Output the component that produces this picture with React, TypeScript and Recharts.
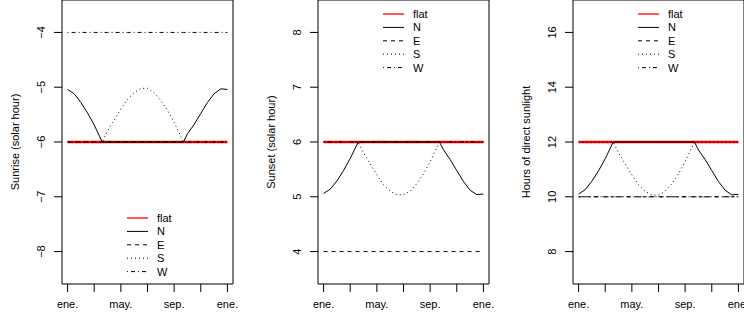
import { LineChart, Line, XAxis, YAxis, ReferenceArea, Legend } from 'recharts'

const FONT = '"Liberation Sans", Arial, Helvetica, sans-serif'

// month index: 0 = ene. ... 12 = ene. (next year)
const months = [0, 0.5, 1, 1.5, 2, 2.6, 3, 3.5, 4, 4.5, 5, 5.5, 6, 6.5, 7, 7.5, 8, 8.7, 9, 9.5, 10, 10.5, 11, 11.5, 12]

const xTicks = [0, 2, 4, 6, 8, 10, 12]
// R drops the labels that would overlap (mar., jul., nov.)
const xTickLabels = ['ene.', '', 'may.', '', 'sep.', '', 'ene.']

const seriesNames = ['flat', 'N', 'E', 'S', 'W']

// sunrise (solar hour)
const sunriseFlat = [-6, -6, -6, -6, -6, -6, -6, -6, -6, -6, -6, -6, -6, -6, -6, -6, -6, -6, -6, -6, -6, -6, -6, -6, -6]
const sunriseN = [-5.04, -5.12, -5.28, -5.47, -5.69, -6, -6, -6, -6, -6, -6, -6, -6, -6, -6, -6, -6, -6, -5.85, -5.68, -5.48, -5.28, -5.12, -5.03, -5.04]
const sunriseE = [-6, -6, -6, -6, -6, -6, -6, -6, -6, -6, -6, -6, -6, -6, -6, -6, -6, -6, -6, -6, -6, -6, -6, -6, -6]
const sunriseS = [-6, -6, -6, -6, -6, -6, -5.8, -5.6, -5.4, -5.22, -5.1, -5.02, -5.02, -5.1, -5.24, -5.42, -5.64, -6, -6, -6, -6, -6, -6, -6, -6]
const sunriseW = [-4, -4, -4, -4, -4, -4, -4, -4, -4, -4, -4, -4, -4, -4, -4, -4, -4, -4, -4, -4, -4, -4, -4, -4, -4]

// sunset (solar hour)
const sunsetFlat = [6, 6, 6, 6, 6, 6, 6, 6, 6, 6, 6, 6, 6, 6, 6, 6, 6, 6, 6, 6, 6, 6, 6, 6, 6]
const sunsetN = [5.06, 5.14, 5.29, 5.48, 5.7, 6, 6, 6, 6, 6, 6, 6, 6, 6, 6, 6, 6, 6, 5.86, 5.68, 5.48, 5.28, 5.12, 5.04, 5.05]
const sunsetE = [4, 4, 4, 4, 4, 4, 4, 4, 4, 4, 4, 4, 4, 4, 4, 4, 4, 4, 4, 4, 4, 4, 4, 4, 4]
const sunsetS = [6, 6, 6, 6, 6, 6, 5.8, 5.6, 5.4, 5.22, 5.1, 5.04, 5.04, 5.1, 5.24, 5.42, 5.64, 6, 6, 6, 6, 6, 6, 6, 6]
const sunsetW = [6, 6, 6, 6, 6, 6, 6, 6, 6, 6, 6, 6, 6, 6, 6, 6, 6, 6, 6, 6, 6, 6, 6, 6, 6]

// hours of direct sunlight
const hoursFlat = [12, 12, 12, 12, 12, 12, 12, 12, 12, 12, 12, 12, 12, 12, 12, 12, 12, 12, 12, 12, 12, 12, 12, 12, 12]
const hoursN = [10.1, 10.26, 10.57, 10.95, 11.39, 12, 12, 12, 12, 12, 12, 12, 12, 12, 12, 12, 12, 12, 11.71, 11.36, 10.96, 10.56, 10.24, 10.07, 10.09]
const hoursE = [10, 10, 10, 10, 10, 10, 10, 10, 10, 10, 10, 10, 10, 10, 10, 10, 10, 10, 10, 10, 10, 10, 10, 10, 10]
const hoursS = [12, 12, 12, 12, 12, 12, 11.6, 11.2, 10.8, 10.44, 10.2, 10.06, 10.06, 10.2, 10.48, 10.84, 11.28, 12, 12, 12, 12, 12, 12, 12, 12]
const hoursW = [10, 10, 10, 10, 10, 10, 10, 10, 10, 10, 10, 10, 10, 10, 10, 10, 10, 10, 10, 10, 10, 10, 10, 10, 10]

const STYLE: Record<string, { color: string; width: number; dash?: string; legendWidth: number }> = {
  flat: { color: '#ff0000', width: 2.5, legendWidth: 1.3 },
  N: { color: '#000', width: 1, legendWidth: 1 },
  E: { color: '#000', width: 1, dash: '4 4', legendWidth: 1 },
  S: { color: '#000', width: 1, dash: '1 3', legendWidth: 1 },
  W: { color: '#000', width: 1, dash: '1 3 4 3', legendWidth: 1 },
}

function buildRows(cols: number[][]) {
  return months.map((m, i) => {
    const row: Record<string, number> = { m }
    seriesNames.forEach((name, j) => {
      row[name] = cols[j][i]
    })
    return row
  })
}

const fmtNum = (v: number) => (v < 0 ? '\u2212' + Math.abs(v) : String(v))

const X_DOMAIN: [number, number] = [-0.42, 12.42]
const PLOT_BOTTOM = 284

function XTick({ x, y, payload }: any) {
  const idx = xTicks.indexOf(payload.value)
  return (
    <text x={x} y={y + 14} textAnchor="middle" fontSize={11} fontFamily={FONT} fill="#000">
      {xTickLabels[idx] ?? ''}
    </text>
  )
}

function YTick({ x, y, payload }: any) {
  return (
    <text x={x} y={y} transform={`rotate(-90 ${x} ${y})`} textAnchor="middle" fontSize={11} fontFamily={FONT} fill="#000">
      {fmtNum(payload.value)}
    </text>
  )
}

function LegendBox() {
  return (
    <svg width={80} height={72} style={{ display: 'block', overflow: 'visible' }}>
      {seriesNames.map((name, i) => {
        const cy = 8 + i * 13.4
        const s = STYLE[name]
        return (
          <g key={name}>
            <line x1={5} x2={26} y1={cy} y2={cy} stroke={s.color} strokeWidth={s.legendWidth} strokeDasharray={s.dash} />
            <text x={35} y={cy + 4} fontSize={11} fontFamily={FONT} fill="#000">{name}</text>
          </g>
        )
      })}
    </svg>
  )
}

interface PanelProps {
  left: number
  width: number
  yAxisWidth: number
  rightMargin: number
  rows: Record<string, number>[]
  yDomain: [number, number]
  yTicks: number[]
  title: string
  legendTop: number
}

function Panel({ left, width, yAxisWidth, rightMargin, rows, yDomain, yTicks, title, legendTop }: PanelProps) {
  const plotLeft = yAxisWidth
  return (
    <div style={{ position: 'absolute', left, top: 0 }}>
      <LineChart width={width} height={320} data={rows} margin={{ top: 0, right: rightMargin, bottom: 0, left: 0 }}>
        <XAxis
          dataKey="m"
          type="number"
          domain={X_DOMAIN}
          ticks={xTicks}
          allowDataOverflow
          height={320 - PLOT_BOTTOM}
          axisLine={false}
          tickLine={{ stroke: '#000' }}
          tickSize={8}
          tick={<XTick />}
          interval={0}
        />
        <YAxis
          type="number"
          domain={yDomain}
          ticks={yTicks}
          allowDataOverflow
          width={yAxisWidth}
          axisLine={false}
          tickLine={{ stroke: '#000' }}
          tickSize={8}
          tickMargin={9}
          tick={<YTick />}
          interval={0}
          label={{
            content: () => (
              <text
                x={plotLeft - 43}
                y={PLOT_BOTTOM / 2}
                transform={`rotate(-90 ${plotLeft - 43} ${PLOT_BOTTOM / 2})`}
                textAnchor="middle"
                fontSize={11}
                fontFamily={FONT}
                fill="#000"
              >
                {title}
              </text>
            ),
          }}
        />
        <ReferenceArea
          x1={X_DOMAIN[0]}
          x2={X_DOMAIN[1]}
          y1={yDomain[0]}
          y2={yDomain[1]}
          fill="none"
          fillOpacity={0}
          stroke="#000"
          strokeWidth={1}
        />
        {seriesNames.map((name) => (
          <Line
            key={name}
            type="linear"
            dataKey={name}
            stroke={STYLE[name].color}
            strokeWidth={STYLE[name].width}
            strokeDasharray={STYLE[name].dash}
            dot={false}
            activeDot={false}
            isAnimationActive={false}
          />
        ))}
        <Legend
          layout="vertical"
          align="center"
          verticalAlign="middle"
          content={() => <LegendBox />}
          wrapperStyle={{ position: 'absolute', left: plotLeft + 60, top: legendTop, width: 80, height: 72 }}
        />
      </LineChart>
    </div>
  )
}

export default function App() {
  return (
    <div style={{ position: 'absolute', left: 0, top: 0, width: 744, height: 320, overflow: 'hidden', background: '#fff' }}>
      <Panel
        left={0}
        width={250}
        yAxisWidth={62}
        rightMargin={17}
        rows={buildRows([sunriseFlat, sunriseN, sunriseE, sunriseS, sunriseW])}
        yDomain={[-8.592, -3.408]}
        yTicks={[-8, -7, -6, -5, -4]}
        title="Sunrise (solar hour)"
        legendTop={210}
      />
      <Panel
        left={250}
        width={250}
        yAxisWidth={68}
        rightMargin={11}
        rows={buildRows([sunsetFlat, sunsetN, sunsetE, sunsetS, sunsetW])}
        yDomain={[3.408, 8.592]}
        yTicks={[4, 5, 6, 7, 8]}
        title="Sunset (solar hour)"
        legendTop={6}
      />
      <Panel
        left={494}
        width={250}
        yAxisWidth={79}
        rightMargin={0}
        rows={buildRows([hoursFlat, hoursN, hoursE, hoursS, hoursW])}
        yDomain={[6.816, 17.184]}
        yTicks={[8, 10, 12, 14, 16]}
        title="Hours of direct sunlight"
        legendTop={6}
      />
    </div>
  )
}
